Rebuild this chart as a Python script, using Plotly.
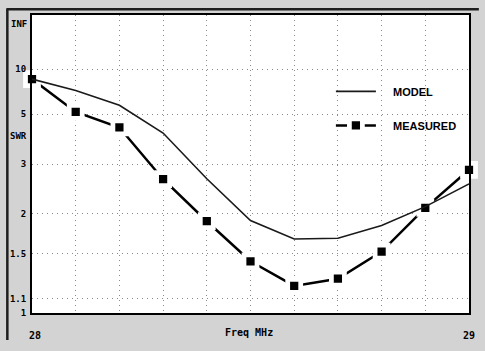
import plotly.graph_objects as go

# ---- data ----
freq_mhz = [28.0, 28.1, 28.2, 28.3, 28.4, 28.5, 28.6, 28.7, 28.8, 28.9, 29.0]
model_swr = [8.3, 6.9, 5.6, 4.05, 2.64, 1.9, 1.66, 1.67, 1.83, 2.11, 2.53]
measured_swr = [8.3, 5.15, 4.3, 2.63, 1.89, 1.42, 1.2, 1.26, 1.52, 2.09, 2.85]

swr_ticks = [1, 1.1, 1.5, 2, 3, 5, 10]
swr_tick_text = ["1", "1.1", "1.5", "2", "3", "5", "10"]
x_tick_text = [" 28", "", "", "", "", "", "", "", "", "", "29"]


def rho(s):
    """SWR -> reflection coefficient (the chart's vertical scale)."""
    return (s - 1.0) / (s + 1.0)


W, H = 485, 351
ML, MR, MT, MB = 32, 10, 15, 28
pw, ph = W - ML - MR, H - MT - MB

mono = "DejaVu Sans Mono"
nb = "\u00a0"
GRAY = "#d3d3d3"

fig = go.Figure()

fig.add_trace(go.Scatter(
    x=freq_mhz, y=[rho(s) for s in measured_swr],
    mode="lines+markers", name=nb * 4 + "MEASURED",
    legendgroup="b", legendrank=2,
    line=dict(color="black", width=2.5),
    marker=dict(symbol="square", size=13, color="black",
                line=dict(color="white", width=4.75)),
    cliponaxis=False,
))
fig.add_trace(go.Scatter(
    x=freq_mhz, y=[rho(s) for s in model_swr],
    mode="lines", name=nb * 4 + "MODEL",
    legendgroup="a", legendrank=1,
    line=dict(color="#1a1a1a", width=1.6),
    cliponaxis=False,
))

grid = dict(showgrid=True, gridcolor="#8a8a8a", gridwidth=1, griddash="1px,4px",
            showline=True, mirror=True, linecolor="black", linewidth=2,
            zeroline=False, ticks="", layer="above traces")

fig.update_layout(
    width=W, height=H,
    margin=dict(l=ML, r=MR, t=MT, b=MB),
    paper_bgcolor=GRAY, plot_bgcolor="white",
    showlegend=True,
    legend=dict(x=(335 - ML) / pw, y=(H - MB - 79) / ph, xanchor="left", yanchor="top",
                bgcolor="rgba(0,0,0,0)", tracegroupgap=15,
                font=dict(family="Liberation Sans", size=11, color="black", weight="bold"),
                itemwidth=40),
    xaxis=dict(range=[28, 29], tickvals=freq_mhz, ticktext=x_tick_text,
               tickfont=dict(family=mono, size=10, color="black", weight="bold"),
               ticklabelstandoff=12, **grid),
    yaxis=dict(range=[0, 1], tickvals=[rho(s) for s in swr_ticks], ticktext=swr_tick_text,
               tickfont=dict(family=mono, size=9, color="black", weight="bold"),
               ticklabelstandoff=2, **grid),
)

fig.add_annotation(text="INF", xref="paper", yref="paper", x=0, y=1,
                   xanchor="right", yanchor="top", xshift=-3, yshift=-2, showarrow=False,
                   font=dict(family=mono, size=9, color="black", weight="bold"))
fig.add_annotation(text="SWR", xref="paper", yref="paper", x=0, y=(H - MB - 140) / ph,
                   xanchor="right", yanchor="middle", xshift=-3, showarrow=False,
                   font=dict(family=mono, size=9, color="black", weight="bold"))
fig.add_annotation(text="Freq MHz", xref="paper", yref="paper", x=0.497, y=0,
                   xanchor="center", yanchor="middle", yshift=-19, showarrow=False,
                   font=dict(family=mono, size=10, color="black", weight="bold"))

# outer window frame (top and left dark edges)
fig.add_shape(type="line", xref="paper", yref="paper",
              x0=(6 - ML) / pw, x1=(W - ML) / pw, y0=(H - MB - 9) / ph, y1=(H - MB - 9) / ph,
              line=dict(color="#1e1e1e", width=2.5))
fig.add_shape(type="line", xref="paper", yref="paper",
              x0=(7 - ML) / pw, x1=(7 - ML) / pw, y0=(H - MB - 9) / ph, y1=(H - MB - H) / ph,
              line=dict(color="#1e1e1e", width=2.5))

page_js = (
    "var d=document.documentElement,b=document.body;"
    "d.style.margin='0';b.style.margin='0';d.style.padding='0';b.style.padding='0';"
    "d.style.overflow='hidden';b.style.overflow='hidden';"
    "d.style.background='" + GRAY + "';b.style.background='" + GRAY + "';"
)

fig.write_html(
    "out.html",
    config={"displayModeBar": False},
    post_script=page_js,
)
